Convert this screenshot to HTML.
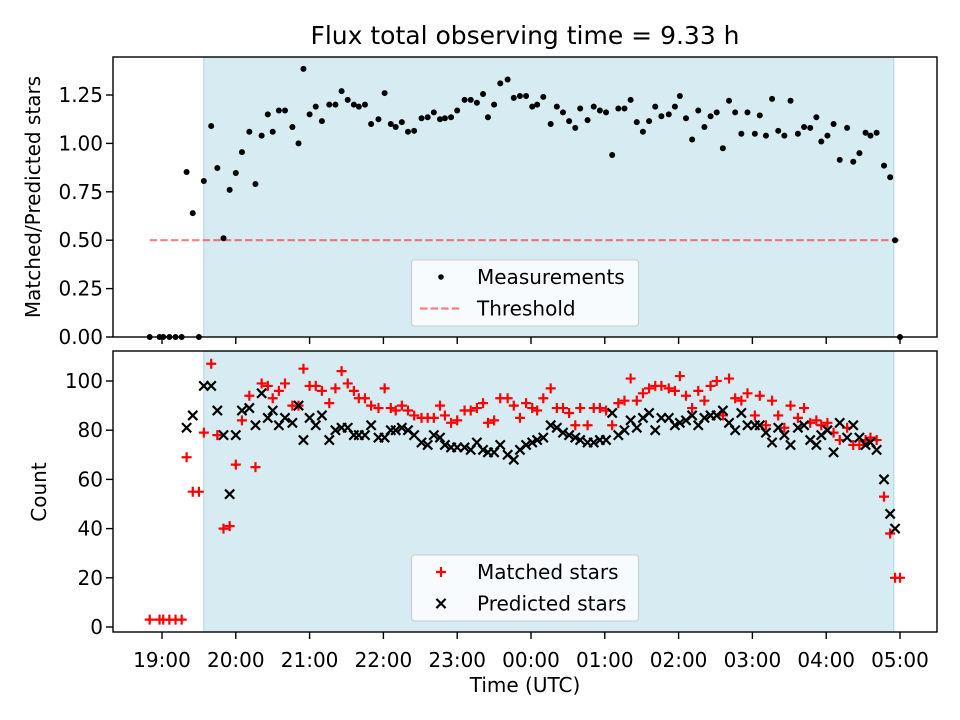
<!DOCTYPE html>
<html><head><meta charset="utf-8"><style>
html,body{margin:0;padding:0;background:#fff}
svg{display:block;font-family:"DejaVu Sans","Liberation Sans",sans-serif}
</style></head><body>
<svg id="fig" width="960" height="720" viewBox="0 0 960 720" xmlns="http://www.w3.org/2000/svg">
<text x="525" y="44" font-size="25" text-anchor="middle">Flux total observing time = 9.33 h</text>
<g id="topPanel"></g>
<g id="botPanel"></g>
<text transform="translate(40,197) rotate(-90)" font-size="20" text-anchor="middle">Matched/Predicted stars</text>
<text transform="translate(46,492) rotate(-90)" font-size="20" text-anchor="middle">Count</text>
<text x="525" y="692" font-size="20" text-anchor="middle">Time (UTC)</text>
</svg>
<script>
// minutes since 18:00
const times=[50,58,61,66,71,76,80,85,90,94,100,105,110,115,120,125,131,136,141,146,150,155,160,166,171,175,180,185,190,196,201,206,211,216,220,225,230,236,241,246,250,255,260,265,271,276,281,286,290,295,300,306,311,316,321,325,330,335,341,346,351,356,361,365,370,376,381,386,391,396,400,406,411,416,421,426,431,436,441,446,451,456,461,466,472,477,481,486,491,496,501,506,511,516,521,526,531,536,542,546,551,556,561,566,571,577,582,587,592,596,601,606,611,617,622,627,632,636,641,647,652,656,660];
const ratio=[0,0,0,0,0,0,0.852,0.64,0,0.806,1.09,0.873,0.51,0.76,0.847,0.955,1.06,0.79,1.04,1.15,1.06,1.17,1.17,1.085,1.0,1.385,1.15,1.19,1.115,1.20,1.20,1.27,1.225,1.20,1.19,1.20,1.10,1.125,1.26,1.10,1.085,1.11,1.06,1.065,1.13,1.135,1.16,1.125,1.13,1.135,1.17,1.225,1.225,1.21,1.255,1.135,1.20,1.31,1.33,1.235,1.245,1.245,1.19,1.20,1.24,1.10,1.19,1.16,1.115,1.08,1.18,1.12,1.19,1.17,1.16,0.94,1.18,1.18,1.225,1.11,1.06,1.115,1.19,1.14,1.15,1.19,1.245,1.13,1.02,1.17,1.085,1.14,1.16,0.975,1.22,1.16,1.05,1.16,1.05,1.145,1.04,1.23,1.065,1.04,1.22,1.05,1.085,1.08,1.135,1.01,1.04,1.10,0.915,1.08,0.905,0.95,1.055,1.04,1.055,0.885,0.825,0.50,0];
const matched=[3,3,3,3,3,3,69,55,55,
79,107,78,40,41,66,84,94,65,99,98,93,96,99,90,90,105,98,98,96,91,97,104,99,96,93,93,90,89,97,89,88,90,88,
86,85,85,85,90,86,83,84,88,88,89,91,83,84,93,93,90,85,91,89,88,93,97,89,89,87,82,89,82,89,89,88,82,91,92,101,92,95,97,98,
98,97,96,102,94,89,96,92,98,100,86,101,93,92,95,86,94,82,92,86,81,90,85,89,83,84,82,83,79,76,81,74,74,76,77,76,53,38,20,20];
const predicted=[null,null,null,null,null,null,81,86,null,
98,98,88,78,54,78,88,89,82,95,85,88,82,85,83,90,76,85,82,86,76,80,81,81,78,78,78,82,77,77,80,80,81,80,
78,75,74,78,77,74,73,73,73,72,75,72,71,71,74,70,68,72,74,75,76,77,82,81,79,78,77,76,75,75,76,76,87,78,80,84,81,85,87,80,
85,85,82,83,84,86,82,85,86,86,88,83,80,87,82,82,82,79,75,81,78,74,81,82,76,74,78,80,71,83,77,82,77,74,75,72,60,46,40,null];
const xTickLabels=["19:00","20:00","21:00","22:00","23:00","00:00","01:00","02:00","03:00","04:00","05:00"];
const xTickMinutes=[60,120,180,240,300,360,420,480,540,600,660];
const ratioTicks=[0,0.25,0.5,0.75,1.0,1.25];
const countTicks=[0,20,40,60,80,100];
const shadeStart=94, shadeEnd=655, threshold=0.5, thrStart=50, thrEnd=660;

const NS="http://www.w3.org/2000/svg";
const L=113,R=937,T1=57,B1=337,T2=351,B2=632;
const FS=20;
const xs=m=>162+(m-60)*73.8/60;
const y1=v=>337-v*193.6;
const y2=c=>627-c*2.46;
function mk(p,tag,a){const e=document.createElementNS(NS,tag);for(const k in a)e.setAttribute(k,a[k]);p.appendChild(e);return e;}
const topG=document.getElementById('topPanel'),botG=document.getElementById('botPanel');

function panel(g,T,B,yTicks,yf,fmt,showX,nm){
  const sh=mk(g,'rect',{x:xs(shadeStart),y:T,width:xs(shadeEnd)-xs(shadeStart),height:B-T,fill:'#add8e6','fill-opacity':0.5,stroke:'#add8e6','stroke-width':1});
  
  
  yTicks.forEach(v=>{
    const y=yf(v);
    const t=mk(g,'line',{x1:L-7,x2:L,y1:y,y2:y,stroke:'#000','stroke-width':1.4});
    
    
    const tx=mk(g,'text',{x:L-10,y:y+7,'font-size':FS,'text-anchor':'end'});
    tx.textContent=fmt(v);
    
    
  });
  xTickMinutes.forEach((m,i)=>{
    const x=xs(m);
    const t=mk(g,'line',{x1:x,x2:x,y1:B,y2:B+7,stroke:'#000','stroke-width':1.4});
    
    
    if(showX){
      const tx=mk(g,'text',{x:x,y:B+35,'font-size':FS,'text-anchor':'middle'});
      tx.textContent=xTickLabels[i];
      
      
    }
  });
}
panel(topG,T1,B1,ratioTicks,y1,v=>v.toFixed(2),false,'top');
panel(botG,T2,B2,countTicks,y2,v=>String(v),true,'bottom');

const thr=mk(topG,'line',{x1:xs(thrStart),x2:xs(thrEnd),y1:y1(threshold),y2:y1(threshold),stroke:'#ff0000','stroke-opacity':0.5,'stroke-width':2.2,'stroke-dasharray':'7.4,3.2'});



times.forEach((m,i)=>{
  if(ratio[i]==null)return;
  const c=mk(topG,'circle',{cx:xs(m),cy:y1(ratio[i]),r:3,fill:'#000'});
  
  
});
times.forEach((m,i)=>{
  if(matched[i]==null)return;
  const x=xs(m),y=y2(matched[i]),h=5;
  const p=mk(botG,'path',{d:`M${x-h},${y}H${x+h}M${x},${y-h}V${y+h}`,stroke:'#ff0000','stroke-width':2.2,fill:'none'});
  
  
});
times.forEach((m,i)=>{
  if(predicted[i]==null)return;
  const x=xs(m),y=y2(predicted[i]),h=4.6;
  const p=mk(botG,'path',{d:`M${x-h},${y-h}L${x+h},${y+h}M${x-h},${y+h}L${x+h},${y-h}`,stroke:'#000','stroke-width':2.2,fill:'none'});
  
  
});

[[T1,B1,'top'],[T2,B2,'bottom']].forEach(([T,B,n])=>{
  const f=mk(n==='top'?topG:botG,'rect',{x:L,y:T,width:R-L,height:B-T,fill:'none',stroke:'#000','stroke-width':1.4});
  
  
});

function legend(g,y0,items,nm){
  const lg=mk(g,'g',{});
  
  
  mk(lg,'rect',{x:411.5,y:y0,width:227,height:66,rx:3,fill:'#fff','fill-opacity':0.8,stroke:'#cccccc','stroke-width':1.1});
  items.forEach((it,k)=>{
    const cy=y0+17+k*31.5;
    const e=mk(lg,'g',{});
    
    
    if(it[0]==='dot')mk(e,'circle',{cx:441,cy:cy,r:2.8,fill:'#000'});
    if(it[0]==='dash')mk(e,'line',{x1:420,x2:462,y1:cy,y2:cy,stroke:'#ff0000','stroke-opacity':0.5,'stroke-width':2.2,'stroke-dasharray':'7.4,3.2'});
    if(it[0]==='plus')mk(e,'path',{d:`M${441-5},${cy}H${441+5}M441,${cy-5}V${cy+5}`,stroke:'#f00','stroke-width':2.2});
    if(it[0]==='x')mk(e,'path',{d:`M${441-4.6},${cy-4.6}L${441+4.6},${cy+4.6}M${441-4.6},${cy+4.6}L${441+4.6},${cy-4.6}`,stroke:'#000','stroke-width':2.2});
    const t=mk(e,'text',{x:477,y:cy+7,'font-size':FS});
    t.textContent=it[1];
  });
}
legend(topG,260,[['dot','Measurements'],['dash','Threshold']],'top-legend');
legend(botG,555,[['plus','Matched stars'],['x','Predicted stars']],'bottom-legend');
</script>
</body></html>
